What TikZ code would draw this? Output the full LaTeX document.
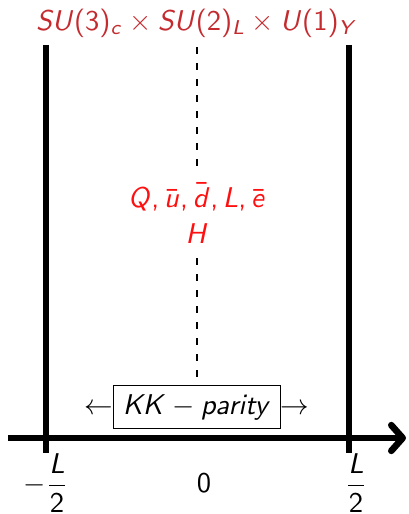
\documentclass[tikz,border=0pt]{standalone}
\usepackage{amsmath}
\usetikzlibrary{positioning, arrows.meta}
\DeclareMathVersion{sfmath}
\SetSymbolFont{operators}{sfmath}{OT1}{cmss}{m}{n}
\SetSymbolFont{letters}{sfmath}{OT1}{cmss}{m}{it}
\SetSymbolFont{symbols}{sfmath}{OMS}{cmsy}{m}{n}
\SetSymbolFont{largesymbols}{sfmath}{OMX}{cmex}{m}{n}
\DeclareMathSymbol{,}{\mathpunct}{operators}{"2C}
\definecolor{gaugeRed}{HTML}{C42A2E}
\definecolor{fieldRed}{HTML}{FF1010}

\begin{document}
\begin{tikzpicture}[x=0.35pt,y=-0.35pt,wall/.style={line width=2.1pt},bulk/.style={line width=0.9pt, dash pattern=on 2.5pt off 3.1pt},lbl/.style={font=\fontsize{10.4}{12.5}\selectfont\mathversion{sfmath}, inner sep=1pt}]
\useasboundingbox (0,0) rectangle (408,514);
\coordinate (lt) at (46,45); \coordinate (lb) at (46,453);
\coordinate (rt) at (349,45); \coordinate (rb) at (349,453);
\coordinate (ct) at (197,47); \coordinate (cm) at (197,166);
\coordinate (cu) at (197,258); \coordinate (cb) at (197,380);
\coordinate (ax0) at (8,438); \coordinate (ax1) at (406,438);
\draw[wall] (lt)--(lb);
\draw[wall] (rt)--(rb);
\draw[bulk] (ct)--(cm);
\draw[bulk] (cu)--(cb);
\draw[line width=2.3pt, -{Straight Barb[length=4pt,width=9pt,round]}] (ax0)--(ax1);
\node[lbl, text=gaugeRed] (gauge) at (197,23) {$SU(3)_c\times SU(2)_L\times U(1)_Y$};
\node[lbl, text=fieldRed] (fields) at (197,197) {$Q,\bar{u},\bar{d},L,\bar{e}$};
\node[lbl, text=fieldRed] (higgs) at (197,234) {$H$};
\node[lbl] (kk) at (197,407) {$\leftarrow$\fbox{$KK-parity$}$\rightarrow$};
\node[lbl, anchor=south] (mhalf) at (46,516) {$-\dfrac{L}{2}$};
\node[lbl] (zero) at (204,483) {$0$};
\node[lbl, anchor=south] (phalf) at (356,516) {$\dfrac{L}{2}$};
\end{tikzpicture}
\end{document}
